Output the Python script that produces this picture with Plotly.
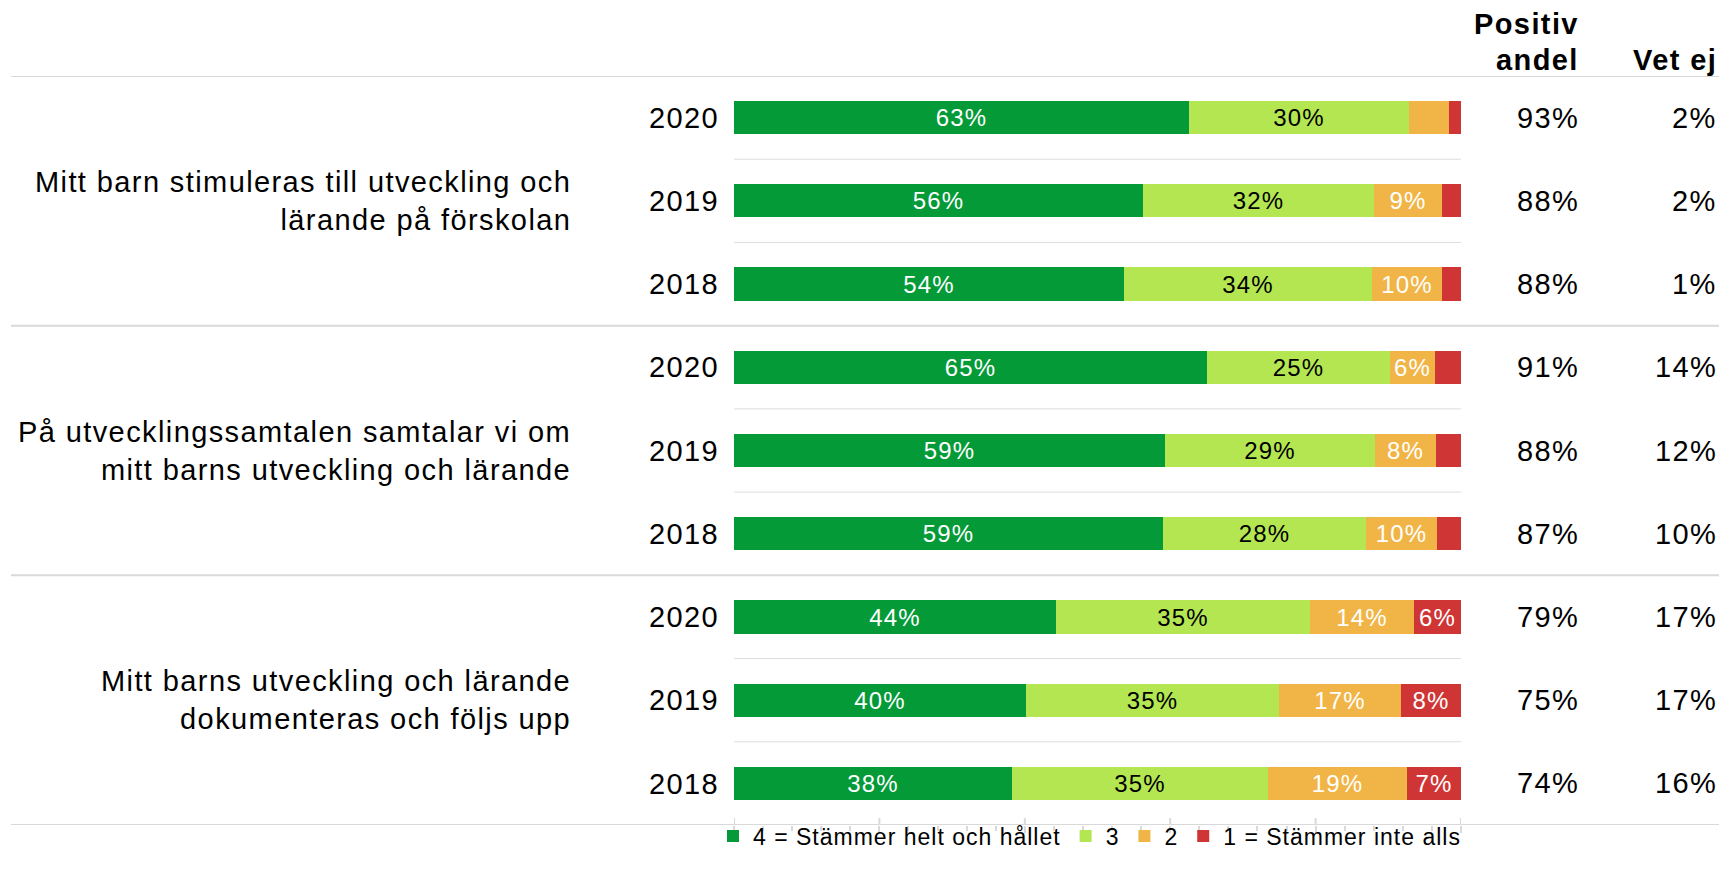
import plotly.graph_objects as go

# ---------------- data ----------------
questions = [
    "Mitt barn stimuleras till utveckling och<br>lärande på förskolan",
    "På utvecklingssamtalen samtalar vi om<br>mitt barns utveckling och lärande",
    "Mitt barns utveckling och lärande<br>dokumenteras och följs upp",
]
years = ["2020", "2019", "2018"]

series_names = ["4 = Stämmer helt och hållet", "3", "2", "1 = Stämmer inte alls"]
# values per row (question 1: 2020, 2019, 2018, question 2: ..., question 3: ...)
s4 = [62.6, 56.3, 53.7, 65.0, 59.3, 59.0, 44.3, 40.2, 38.2]
s3 = [30.2, 31.8, 34.1, 25.3, 28.9, 28.0, 34.9, 34.7, 35.3]
s2 = [5.5, 9.3, 9.6, 6.1, 8.4, 9.7, 14.4, 16.8, 19.1]
s1 = [1.7, 2.6, 2.6, 3.6, 3.4, 3.3, 6.4, 8.3, 7.4]

positiv_andel = [93, 88, 88, 91, 88, 87, 79, 75, 74]
vet_ej = [2, 2, 1, 14, 12, 10, 17, 17, 16]

header_positiv = ["Positiv", "andel"]
header_vetej = "Vet ej"

# ---------------- style ----------------
colors = ["#039A37", "#B4E651", "#F0B546", "#D03535"]
text_colors = ["white", "black", "white", "white"]
FONT = "Arial, 'Liberation Sans', sans-serif"
LS = "1.4px"


def sp(t, ls=LS):
    return "<br>".join(f'<span style="letter-spacing:{ls}">{line}</span>' for line in t.split("<br>"))


W, H = 1719, 875
PL, PR, PT, PB = 734, 1461, 76, 825


def xp(px):
    return (px - PL) / (PR - PL)


def yp(py):
    return (PB - py) / (PB - PT)


n_rows = len(questions) * len(years)
rows = list(range(n_rows))
row_years = [years[i % len(years)] for i in rows]

fig = go.Figure()
for name, vals, col, tcol in zip(series_names, [s4, s3, s2, s1], colors, text_colors):
    fig.add_trace(go.Bar(
        x=vals, y=rows, orientation="h", name=sp(name, "1px"),
        marker=dict(color=col, line=dict(width=0)),
        width=0.4,
        text=[sp(f"{round(v)}%", "1.2px") if v >= 6 else "" for v in vals],
        textposition="inside", insidetextanchor="middle",
        insidetextfont=dict(color=tcol, size=24, family=FONT),
        constraintext="none", cliponaxis=False,
        hoverinfo="skip",
    ))

shapes = []
# group separators (full width)
for g in range(len(questions) + 1):
    yv = g * len(years) - 0.5
    shapes.append(dict(type="line", xref="paper", yref="y", x0=xp(11), x1=xp(1719),
                       y0=yv, y1=yv, line=dict(color="#D9D9D9", width=2), layer="below"))
# row separators within groups
for g in range(len(questions)):
    for k in range(1, len(years)):
        yv = g * len(years) + k - 0.5
        shapes.append(dict(type="line", xref="x", yref="y", x0=0, x1=100,
                           y0=yv, y1=yv, line=dict(color="#DEDEDE", width=1), layer="below"))
# major ticks extending slightly above the axis line
for t in range(0, 101, 20):
    shapes.append(dict(type="line", xref="x", yref="paper", x0=t, x1=t,
                       y0=yp(PB), y1=yp(PB - 7), line=dict(color="#D9D9D9", width=2)))

annotations = []
for g, q in enumerate(questions):
    annotations.append(dict(text=sp(q), x=xp(573), y=g * len(years) + 1, xref="paper", yref="y",
                            xanchor="right", yanchor="middle", align="right", showarrow=False,
                            font=dict(size=29, color="black", family=FONT)))
for i in rows:
    annotations.append(dict(text=sp(f"{positiv_andel[i]}%"), x=xp(1581), y=i, xref="paper", yref="y",
                            xanchor="right", yanchor="middle", showarrow=False,
                            font=dict(size=29, color="black", family=FONT)))
    annotations.append(dict(text=sp(f"{vet_ej[i]}%"), x=xp(1719), y=i, xref="paper", yref="y",
                            xanchor="right", yanchor="middle", showarrow=False,
                            font=dict(size=29, color="black", family=FONT)))
annotations.append(dict(text="<b>" + sp(header_positiv[0]) + "</b>", x=xp(1581), y=yp(24),
                        xref="paper", yref="paper", xanchor="right", yanchor="middle", showarrow=False,
                        font=dict(size=29, color="black", family=FONT)))
annotations.append(dict(text="<b>" + sp(header_positiv[1]) + "</b>", x=xp(1581), y=yp(60),
                        xref="paper", yref="paper", xanchor="right", yanchor="middle", showarrow=False,
                        font=dict(size=29, color="black", family=FONT)))
annotations.append(dict(text="<b>" + sp(header_vetej) + "</b>", x=xp(1719), y=yp(60),
                        xref="paper", yref="paper", xanchor="right", yanchor="middle", showarrow=False,
                        font=dict(size=29, color="black", family=FONT)))

fig.update_layout(
    width=W, height=H,
    margin=dict(l=PL, r=W - PR, t=PT, b=H - PB, pad=0, autoexpand=False),
    paper_bgcolor="white", plot_bgcolor="white",
    barmode="stack", bargap=0,
    font=dict(family=FONT, color="black"),
    shapes=shapes, annotations=annotations,
    showlegend=True,
    legend=dict(orientation="h", xref="paper", yref="paper",
                x=xp(1466), y=yp(836), xanchor="right", yanchor="middle",
                font=dict(size=23, color="black", family=FONT), traceorder="normal",
                itemwidth=30, tracegroupgap=0, borderwidth=0,
                itemclick=False, itemdoubleclick=False, bgcolor="rgba(0,0,0,0)"),
    xaxis=dict(range=[0, 100], showgrid=False, zeroline=False, showticklabels=False,
               showline=False, ticks="outside", tickmode="linear", tick0=0, dtick=20,
               ticklen=7, tickwidth=2, tickcolor="#D9D9D9",
               minor=dict(ticks="outside", dtick=4, ticklen=5, tickwidth=1.5, tickcolor="#D9D9D9")),
    yaxis=dict(range=[n_rows - 0.5, -0.5], showgrid=False, zeroline=False, showline=False,
               tickmode="array", tickvals=rows, ticktext=[sp(y) for y in row_years],
               ticks="", ticklabelstandoff=14,
               tickfont=dict(size=29, color="black", family=FONT)),
)

fig.write_html("out.html", config={"displayModeBar": False},
               post_script="document.body.style.margin='0';")
